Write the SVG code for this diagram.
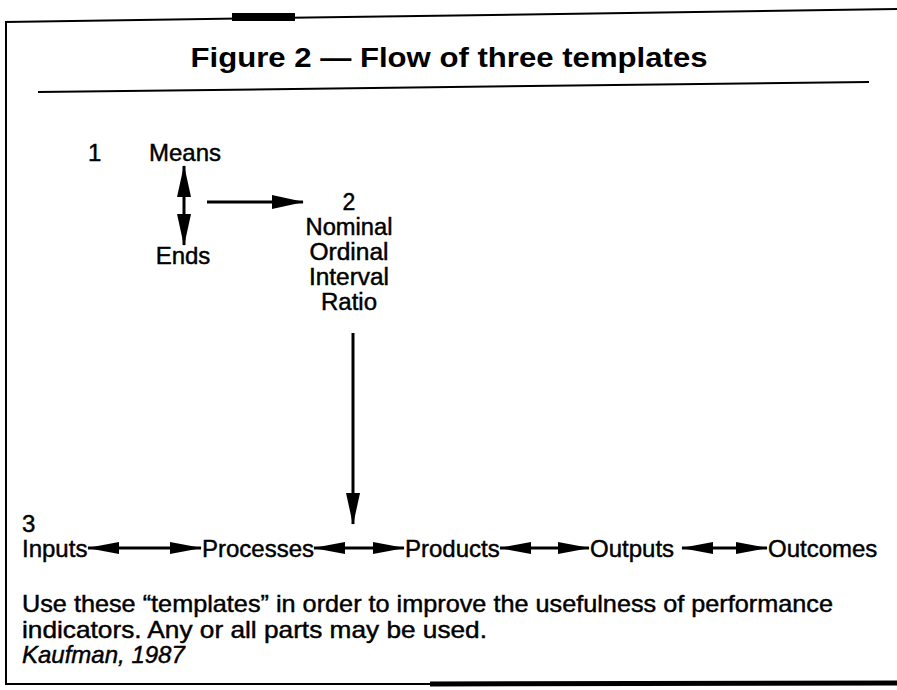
<svg xmlns="http://www.w3.org/2000/svg" width="897" height="690" viewBox="0 0 897 690">
<style>
  text { font-family: "Liberation Sans", Arial, sans-serif; fill: #000; }
  .t { font-size: 24px; stroke: #000; stroke-width: 0.45; }
  .s { font-size: 23px; }
  .c { text-anchor: middle; }
  .title { font-size: 27px; font-weight: bold; }
  .line { stroke: #000; stroke-width: 2; fill: none; }
  .conn { stroke: #000; stroke-width: 3; fill: none; }
</style>
<defs>
  <marker id="ah" viewBox="0 0 32 16" refX="31" refY="8" markerUnits="userSpaceOnUse" markerWidth="32" markerHeight="16" orient="auto-start-reverse">
    <path d="M0,1 L32,8 L0,15 Z" fill="#000"/>
  </marker>
  <marker id="ahs" viewBox="0 0 32 14" refX="31" refY="7" markerUnits="userSpaceOnUse" markerWidth="32" markerHeight="14" orient="auto-start-reverse">
    <path d="M0,1 L32,7 L0,13 Z" fill="#000"/>
  </marker>
</defs>
<g id="frame">
  <line class="line" x1="5" y1="22" x2="897" y2="9"/>
  <rect x="232" y="13" width="63" height="8" fill="#000"/>
  <line class="line" x1="6" y1="21" x2="6" y2="684"/>
  <line x1="5" y1="684" x2="430" y2="684" stroke="#000" stroke-width="2"/>
  <line x1="430" y1="684" x2="897" y2="683" stroke="#000" stroke-width="5"/>
  <line class="line" x1="38" y1="92" x2="869" y2="82"/>
</g>
<g id="title">
  <text class="title c" x="449" y="67" textLength="517" lengthAdjust="spacingAndGlyphs">Figure 2 — Flow of three templates</text>
</g>
<g id="connectors">
  <line class="conn" x1="184" y1="166" x2="184" y2="245" marker-start="url(#ah)" marker-end="url(#ah)"/>
  <line class="conn" x1="207" y1="202" x2="303" y2="202" marker-end="url(#ah)"/>
  <line class="conn" x1="353" y1="333" x2="353" y2="524" marker-end="url(#ah)"/>
  <line class="conn" x1="88" y1="548" x2="201" y2="548" marker-start="url(#ahs)" marker-end="url(#ahs)"/>
  <line class="conn" x1="314" y1="548" x2="404" y2="548" marker-start="url(#ahs)" marker-end="url(#ahs)"/>
  <line class="conn" x1="500" y1="548" x2="589" y2="548" marker-start="url(#ahs)" marker-end="url(#ahs)"/>
  <line class="conn" x1="682" y1="548" x2="767" y2="548" marker-start="url(#ahs)" marker-end="url(#ahs)"/>
</g>
<g id="template1">
  <text class="t" x="88" y="161">1</text>
  <text class="t c" x="185" y="161">Means</text>
  <text class="t c" x="183" y="264">Ends</text>
</g>
<g id="template2">
  <text class="t s c" x="349" y="210">2</text>
  <text class="t s c" x="349" y="235" textLength="87" lengthAdjust="spacingAndGlyphs">Nominal</text>
  <text class="t s c" x="349" y="260" textLength="79" lengthAdjust="spacingAndGlyphs">Ordinal</text>
  <text class="t s c" x="349" y="285" textLength="80" lengthAdjust="spacingAndGlyphs">Interval</text>
  <text class="t s c" x="349" y="310" textLength="56" lengthAdjust="spacingAndGlyphs">Ratio</text>
</g>
<g id="template3">
  <text class="t" x="22" y="532">3</text>
  <text class="t" x="22" y="557">Inputs</text>
  <text class="t" x="202" y="557">Processes</text>
  <text class="t" x="405" y="557">Products</text>
  <text class="t" x="590" y="557">Outputs</text>
  <text class="t" x="768" y="557">Outcomes</text>
</g>
<g id="note">
  <text class="t" x="22" y="612" textLength="811" lengthAdjust="spacingAndGlyphs">Use these “templates” in order to improve the usefulness of performance</text>
  <text class="t" x="22" y="638" textLength="465" lengthAdjust="spacingAndGlyphs">indicators. Any or all parts may be used.</text>
  <text class="t" x="22" y="663" font-style="italic">Kaufman, 1987</text>
</g>
</svg>
